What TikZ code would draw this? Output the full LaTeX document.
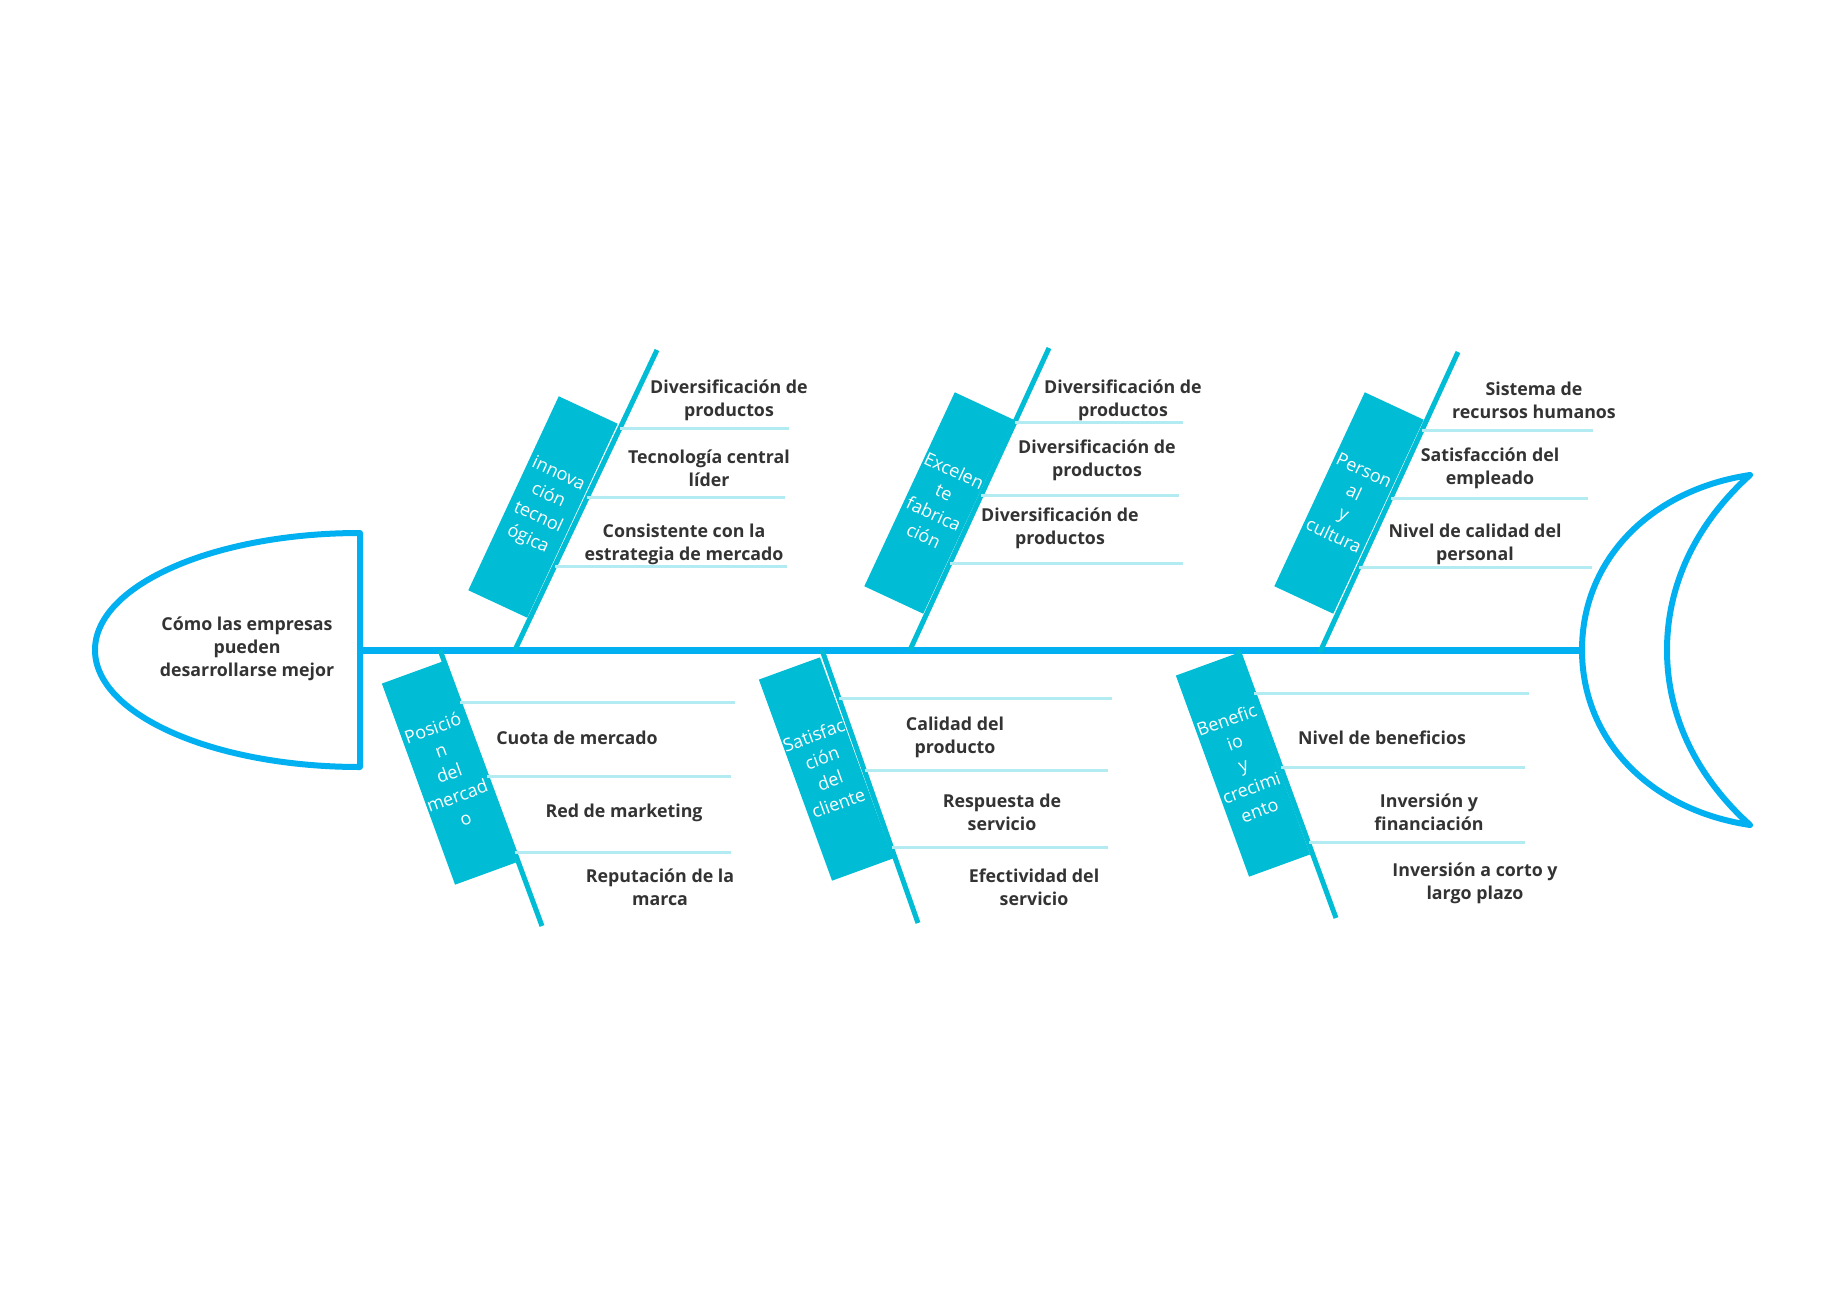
\documentclass[tikz,border=0pt]{standalone}
\usepackage{fontspec}
\setmainfont{Open Sans}
\usetikzlibrary{positioning}
\definecolor{spineblue}{RGB}{0,176,240}
\definecolor{bonecyan}{RGB}{0,188,212}
\definecolor{twigcyan}{RGB}{178,235,242}
\definecolor{causegray}{RGB}{51,51,51}

\begin{document}
\begin{tikzpicture}[x=1pt, y=-1pt,
      spine/.style={spineblue, line width=7pt},
      outline/.style={spineblue, line width=6pt, line join=round},
      bone/.style={bonecyan, line width=5pt},
      twig/.style={twigcyan, line width=3pt},
      category/.style={
          fill=bonecyan,
          minimum width=65pt,
          minimum height=214pt,
          inner sep=0pt,
          text=white,
          font=\fontsize{18}{24}\selectfont,
          align=center
        },
      cause/.style={
          text=causegray,
          font=\fontsize{17.8}{23}\selectfont\bfseries,
          inner sep=0pt,
          align=center
        }
    ]
    \useasboundingbox (0,0) rectangle (1847,1303);

    % head and tail
    \coordinate (headjoint) at (360,650);
    \coordinate (tailjoint) at (1582,650);
    \draw[outline] (360,533) arc[start angle=270, end angle=90, x radius=265, y radius=117] -- cycle;
    \node[cause] (effect) at (247,649) {Cómo las empresas\\pueden\\desarrollarse mejor};
    \draw[outline] (1750,475) .. controls (1650,490) and (1582,560) .. (tailjoint)
      .. controls (1582,740) and (1650,810) .. (1750,825)
      .. controls (1700,780) and (1667,720) .. (1667,650)
      .. controls (1667,580) and (1700,520) .. cycle;
    \draw[spine] (headjoint) -- (tailjoint);

    % upper bones
    \coordinate (innov-root) at (515,650);
    \coordinate (innov-tip) at (657,350);
    \coordinate (excel-root) at (910,650);
    \coordinate (excel-tip) at (1049,348);
    \coordinate (staff-root) at (1320,652);
    \coordinate (staff-tip) at (1458,352);
    \draw[bone] (innov-root) -- (innov-tip) coordinate[pos=0.74] (innov-1) coordinate[pos=0.507] (innov-2) coordinate[pos=0.28] (innov-3);
    \draw[bone] (excel-root) -- (excel-tip) coordinate[pos=0.752] (excel-1) coordinate[pos=0.513] (excel-2) coordinate[pos=0.288] (excel-3);
    \draw[bone] (staff-root) -- (staff-tip) coordinate[pos=0.74] (staff-1) coordinate[pos=0.513] (staff-2) coordinate[pos=0.283] (staff-3);

    \node[category, rotate=-25] (innov) at (543,507) {innova\\ción\\tecnol\\ógica};
    \node[category, rotate=-25] (excel) at (939,503) {Excelen\\te\\fabrica\\ción};
    \node[category, rotate=-25] (staff) at (1349,503) {Person\\al\\y\\cultura};

    \draw[twig] (innov-1) -- ++(169,0);
    \draw[twig] (innov-2) -- ++(198,0);
    \draw[twig] (innov-3) -- ++(232,0);
    \draw[twig] (excel-1) -- ++(168,0);
    \draw[twig] (excel-2) -- ++(198,0);
    \draw[twig] (excel-3) -- ++(233,0);
    \draw[twig] (staff-1) -- ++(171,0);
    \draw[twig] (staff-2) -- ++(197,0);
    \draw[twig] (staff-3) -- ++(233,0);

    \node[cause] (innov-a) at (729,400) {Diversificación de\\productos};
    \node[cause] (innov-b) at (709,468) {Tecnología central\\líder};
    \node[cause] (innov-c) at (684,544) {Consistente con la\\estrategia de mercado};
    \node[cause] (excel-a) at (1123,400) {Diversificación de\\productos};
    \node[cause] (excel-b) at (1097,460) {Diversificación de\\productos};
    \node[cause] (excel-c) at (1060,528) {Diversificación de\\productos};
    \node[cause] (staff-a) at (1534,400) {Sistema de\\recursos humanos};
    \node[cause] (staff-b) at (1490,468) {Satisfacción del\\empleado};
    \node[cause] (staff-c) at (1475,544) {Nivel de calidad del\\personal};

    % lower bones
    \coordinate (market-root) at (440,650);
    \coordinate (market-tip) at (542,926);
    \coordinate (client-root) at (822,650);
    \coordinate (client-tip) at (918,923);
    \coordinate (profit-root) at (1238,650);
    \coordinate (profit-tip) at (1336,918);
    \draw[bone] (market-root) -- (market-tip) coordinate[pos=0.192] (market-1) coordinate[pos=0.457] (market-2) coordinate[pos=0.732] (market-3);
    \draw[bone] (client-root) -- (client-tip) coordinate[pos=0.179] (client-1) coordinate[pos=0.443] (client-2) coordinate[pos=0.725] (client-3);
    \draw[bone] (profit-root) -- (profit-tip) coordinate[pos=0.164] (profit-1) coordinate[pos=0.437] (profit-2) coordinate[pos=0.72] (profit-3);

    \node[category, rotate=20] (market) at (449,773) {Posició\\n\\del\\mercad\\o};
    \node[category, rotate=20] (client) at (826,769) {Satisfac\\ción\\del\\cliente};
    \node[category, rotate=20] (profit) at (1243,765) {Benefic\\io\\y\\crecimi\\ento};

    \draw[twig] (market-1) -- ++(275,0);
    \draw[twig] (market-2) -- ++(244,0);
    \draw[twig] (market-3) -- ++(216,0);
    \draw[twig] (client-1) -- ++(273,0);
    \draw[twig] (client-2) -- ++(243,0);
    \draw[twig] (client-3) -- ++(216,0);
    \draw[twig] (profit-1) -- ++(275,0);
    \draw[twig] (profit-2) -- ++(244,0);
    \draw[twig] (profit-3) -- ++(216,0);

    \node[cause] (market-a) at (577,738) {Cuota de mercado};
    \node[cause] (market-b) at (624,813) {Red de marketing};
    \node[cause] (market-c) at (660,887) {Reputación de la\\marca};
    \node[cause] (client-a) at (955,737) {Calidad del\\producto};
    \node[cause] (client-b) at (1002,812) {Respuesta de\\servicio};
    \node[cause] (client-c) at (1034,887) {Efectividad del\\servicio};
    \node[cause] (profit-a) at (1382,738) {Nivel de beneficios};
    \node[cause] (profit-b) at (1429,812) {Inversión y\\financiación};
    \node[cause] (profit-c) at (1475,883) {Inversión a corto y\\largo plazo};
  \end{tikzpicture}
\end{document}
